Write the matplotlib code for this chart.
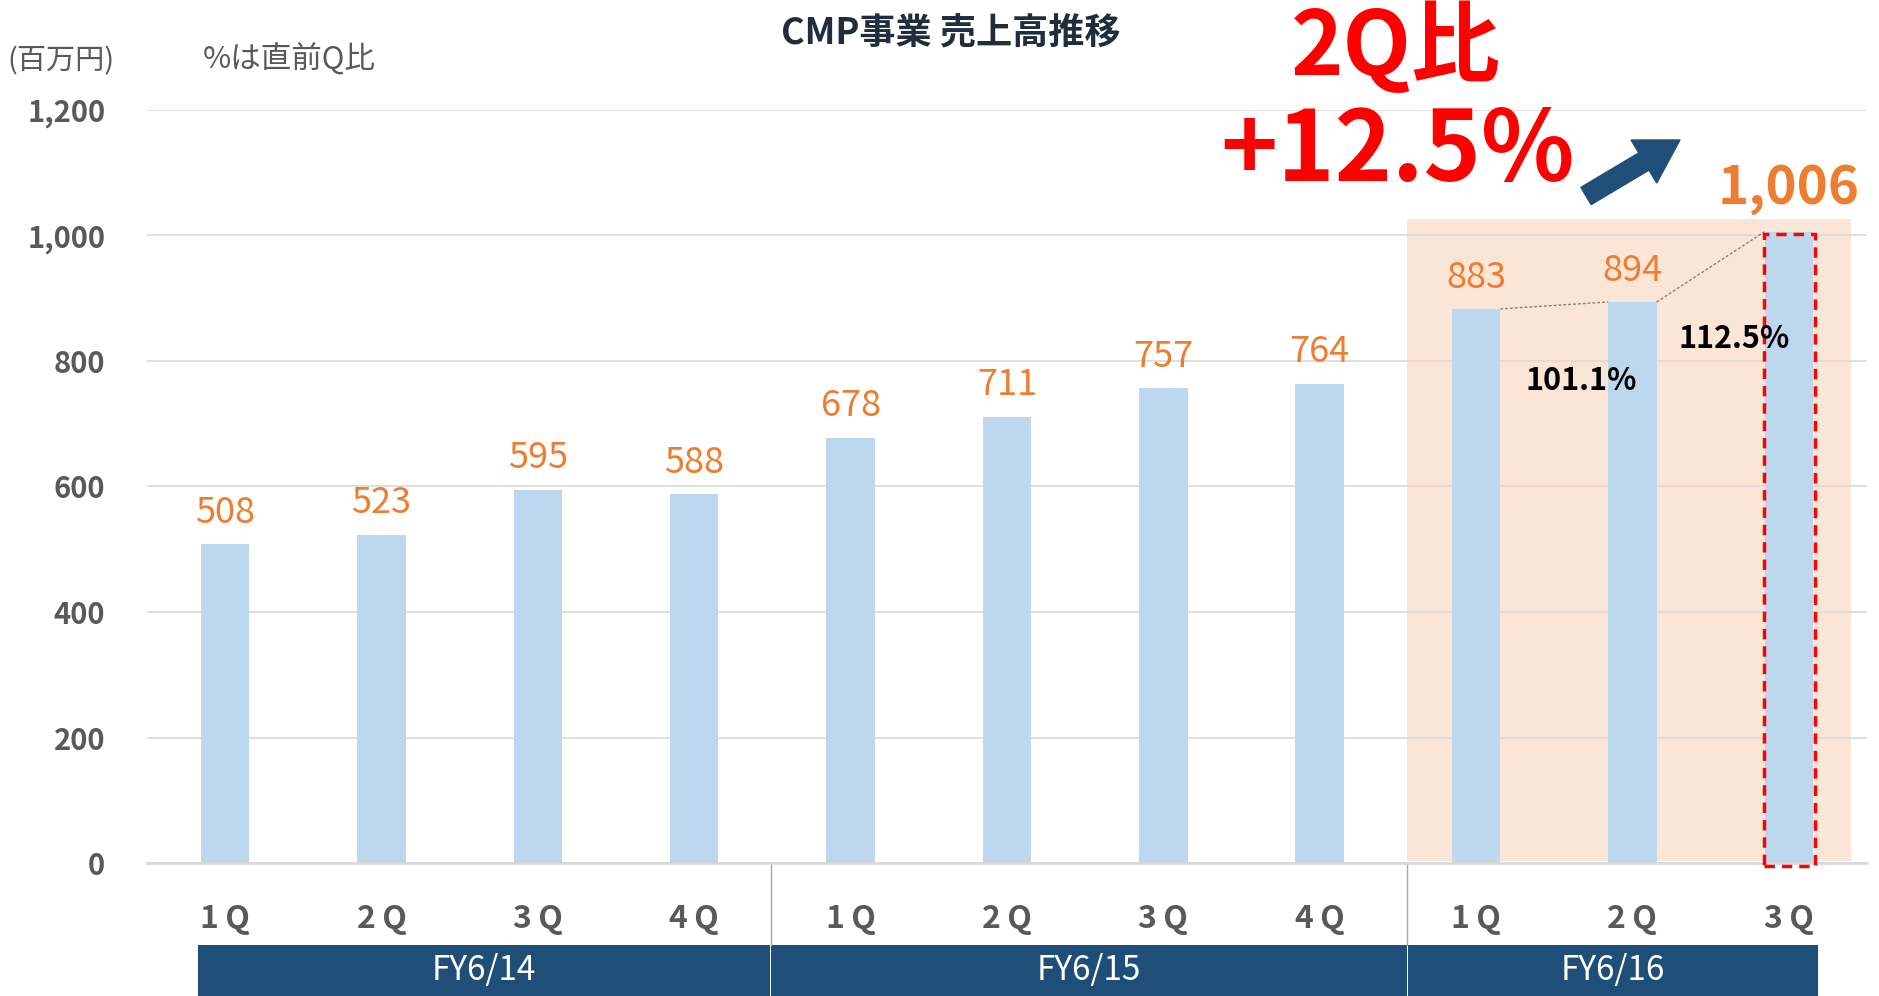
import matplotlib
matplotlib.use('Agg')
import matplotlib.pyplot as plt
from matplotlib.patches import Rectangle, FancyArrow
from matplotlib.transforms import blended_transform_factory

plt.rcParams['font.family'] = ['Noto Sans CJK JP', 'DejaVu Sans']

# data
quarters = ['1Q', '2Q', '3Q', '4Q', '1Q', '2Q', '3Q', '4Q', '1Q', '2Q', '3Q']
sales = [508, 523, 595, 588, 678, 711, 757, 764, 883, 894, 1006]
years = ['FY6/14', 'FY6/15', 'FY6/16']
year_spans = [(-0.18, 3.49), (3.49, 7.56), (7.56, 10.19)]
qoq = ['101.1%', '112.5%']

bar_col = '#BDD7EE'
orange = '#ED7D31'
navy = '#1F4E79'
gray = '#595959'

fig = plt.figure(figsize=(18.79, 9.96), dpi=100)
ax = fig.add_axes([0.0782, 0.1335, 0.9154, 0.7561])

x = list(range(len(sales)))
w = 0.31

# highlighted FY6/16 background
ax.add_patch(Rectangle((7.56, 4), 2.84, 1022, color='#FBE5D6', zorder=0, lw=0))

ax.bar(x, sales, width=w, color=bar_col, zorder=2)

for i, v in enumerate(sales):
    if i == len(sales) - 1:
        ax.text(i, v + 69, f'{v:,}', ha='center', va='center', fontsize=38,
                fontweight='bold', color=orange, zorder=5)
    else:
        ax.text(i, v + 50, f'{v:,}', ha='center', va='center', fontsize=26,
                color=orange, zorder=5)

# dotted connectors
ax.plot([8 + w / 2, 9 - w / 2], [sales[8], sales[9]], ls=(0, (2, 1.5)), color='#7f7f7f', lw=1, zorder=3)
ax.plot([9 + w / 2, 10 - w / 2], [sales[9], sales[10]], ls=(0, (2, 1.5)), color='#7f7f7f', lw=1, zorder=3)
ax.text(8.67, 768, qoq[0], ha='center', va='center', fontsize=22, fontweight='bold', color='black', zorder=5)
ax.text(9.65, 835, qoq[1], ha='center', va='center', fontsize=22, fontweight='bold', color='black', zorder=5)

# red dashed box around latest bar
ax.add_patch(Rectangle((9.84, -4), 0.33, 1007, fill=False, ec='#FF0000', lw=2.5,
                       ls=(0, (3, 2)), zorder=4, clip_on=False))

ax.set_xlim(-0.5, 10.5)
ax.set_ylim(0, 1200)
ax.set_yticks(range(0, 1201, 200))
ax.set_yticklabels([f'{t:,}' for t in range(0, 1201, 200)])
ax.set_xticks(x)
ax.set_xticklabels([q[0] + '\u2009' + q[1:] for q in quarters])
ax.grid(axis='y', color='#D9D9D9', lw=1.2, zorder=0)
ax.set_axisbelow(True)
for s in ['top', 'right', 'left']:
    ax.spines[s].set_visible(False)
ax.spines['bottom'].set_color('#D9D9D9')
ax.spines['bottom'].set_linewidth(2)
ax.tick_params(axis='y', length=0, pad=30, labelsize=21, labelcolor=gray)
ax.tick_params(axis='x', length=0, pad=29, labelsize=23, labelcolor=gray)
for lab in ax.get_xticklabels() + ax.get_yticklabels():
    lab.set_fontweight('bold')

# fiscal year bands
tr = blended_transform_factory(ax.transData, fig.transFigure)
for name, (a, b) in zip(years, year_spans):
    ax.add_patch(Rectangle((a + 0.004, 0), b - a - 0.008, 0.051, transform=tr,
                           color=navy, clip_on=False, lw=0))
    ax.text((a + b) / 2, 0.026, name, transform=tr, ha='center', va='center',
            fontsize=24, color='white')
for sx in [3.49, 7.56]:
    ax.plot([sx, sx], [0.051, 0.1335], transform=tr, color='#A6A6A6', lw=1, clip_on=False)

# titles and notes
fig.text(0.506, 0.966, 'CMP事業 売上高推移', ha='center', va='center', fontsize=26,
         fontweight='bold', color='#1F2D3D')
fig.text(0.004, 0.938, '(百万円)', ha='left', va='center', fontsize=21, color=gray)
fig.text(0.108, 0.94, '%は直前Q比', ha='left', va='center', fontsize=22, color=gray)
fig.text(0.743, 0.952, '2Q比', ha='center', va='center', fontsize=64,
         fontweight='bold', color='#FF0000')
fig.text(0.744, 0.847, '+12.5%', ha='center', va='center', fontsize=70,
         fontweight='bold', color='#FF0000')

# arrow (inch coordinates)
ax.add_patch(FancyArrow(15.86, 8.0, 0.94, 0.56, width=0.2, head_width=0.5,
                        head_length=0.42, transform=fig.dpi_scale_trans, color=navy,
                        clip_on=False, length_includes_head=True))

fig.savefig('out.png', dpi=100)
